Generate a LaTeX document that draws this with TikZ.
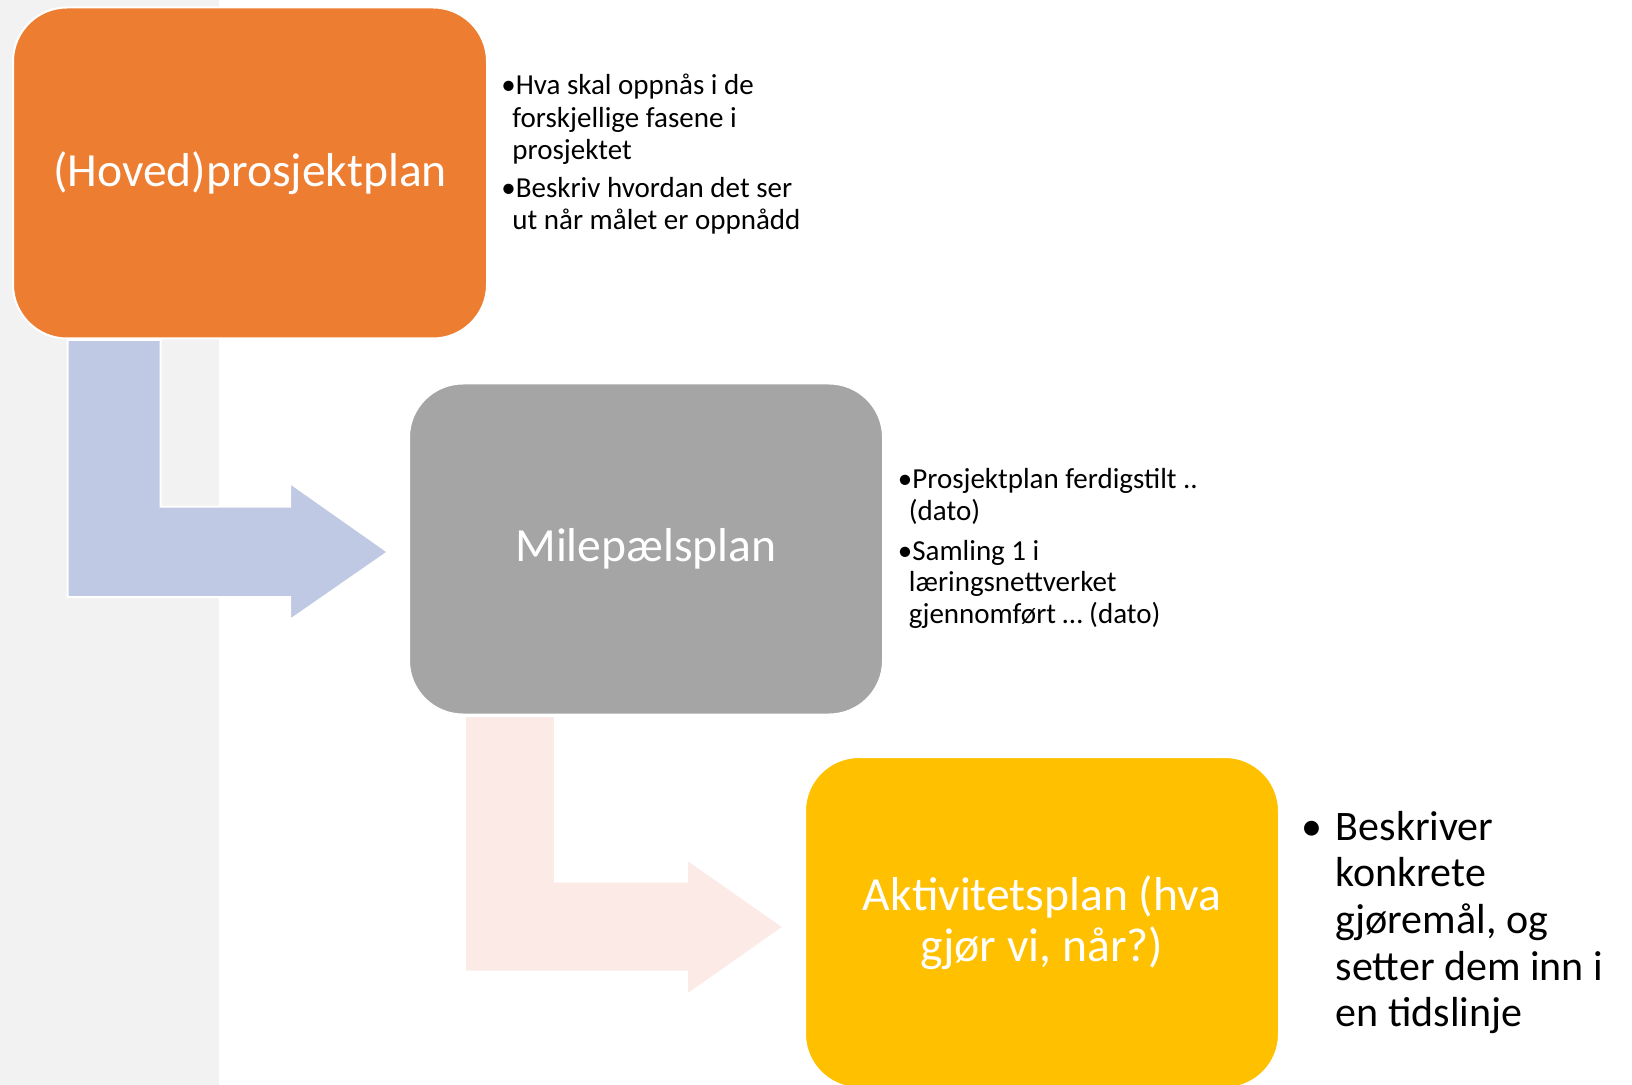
\documentclass[tikz,border=0pt]{standalone}
\usepackage{fontspec}
\setmainfont{Carlito}
\definecolor{stripC}{HTML}{F2F2F2}
\definecolor{orangeC}{HTML}{ED7D31}
\definecolor{grayC}{HTML}{A5A5A5}
\definecolor{yellowC}{HTML}{FFC000}
\definecolor{blueC}{HTML}{BFC9E3}
\definecolor{pinkC}{HTML}{FBEAE6}
\newcommand{\contl}{\hspace*{-1.7pt}}
\begin{document}
\begin{tikzpicture}[x=0.5pt,y=-0.5pt,
  planbox/.style={draw=white, line width=1pt, rounded corners=27pt,
    minimum width=237pt, minimum height=165.5pt, inner sep=0pt,
    text=white, font=\fontsize{23.8}{25.65}\selectfont, align=center},
  blockarrow/.style={draw=white, line width=1pt},
  note/.style={anchor=base west, inner sep=0pt, text=black}]
\useasboundingbox (0,0) rectangle (1632,1085);
\fill[white] (0,0) rectangle (1632,1085);
\fill[stripC] (0,0) rectangle (219,1085);
% block arrows
\filldraw[blockarrow, fill=blueC] (67.7,340) -- (160.5,340) -- (160.5,506.7) -- (290,506.7) -- (290,483)
  -- (388,552) -- (290,620) -- (290,597) -- (67.7,597) -- cycle;
\filldraw[blockarrow, fill=pinkC] (465,716) -- (555,716) -- (555,881.7) -- (687,881.7) -- (687,859.3)
  -- (783.7,927) -- (687,995) -- (687,971.7) -- (465,971.7) -- cycle;
% boxes
\node[planbox, fill=orangeC] (hp) at (250,173) {(Hoved)prosjektplan};
\node[planbox, fill=grayC] (ms) at (646,549) {Milepælsplan};
\node[planbox, fill=yellowC] (ak) at (1042,922.5) {Aktivitetsplan (hva\\gjør vi, når?)};
% notes
\node[note, font=\fontsize{14.5}{16.25}\selectfont] (n1) at (501,95)
  {\begin{tabular}[t]{@{}l@{}l@{}}•&Hva skal oppnås i de\\ &\contl forskjellige fasene i\\ &\contl prosjektet\\[2.5pt]
   •&Beskriv hvordan det ser\\ &\contl ut når målet er oppnådd\end{tabular}};
\node[note, font=\fontsize{14.5}{15.8}\selectfont] (n2) at (897.5,488.5)
  {\begin{tabular}[t]{@{}l@{}l@{}}•&Prosjektplan ferdigstilt ..\\ &\contl(dato)\\[4.25pt]
   •&Samling 1 i\\ &\contl læringsnettverket\\ &\contl gjennomført … (dato)\end{tabular}};
\node[note, font=\fontsize{21}{23.35}\selectfont] (n3) at (1301,840)
  {\begin{tabular}[t]{@{}l@{}l@{}}\makebox[17.2pt][l]{•}&Beskriver\\ &konkrete\\ &gjøremål, og\\
   &setter dem inn i\\ &en tidslinje\end{tabular}};
\end{tikzpicture}
\end{document}
